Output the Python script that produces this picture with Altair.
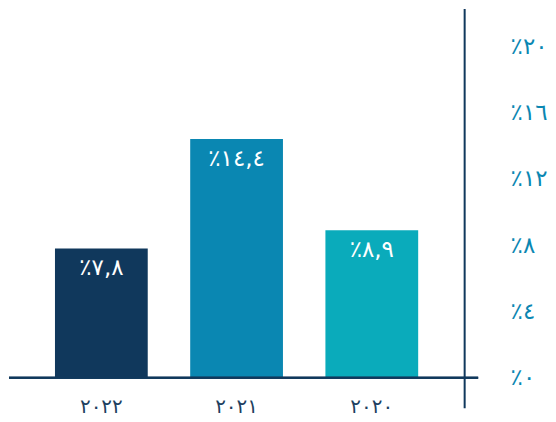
import altair as alt
import pandas as pd

years = ["٢٠٢٢", "٢٠٢١", "٢٠٢٠"]
values = [7.8, 14.4, 8.9]
labels = ["٪٧,٨", "٪١٤,٤", "٪٨,٩"]
colors = ["#10385c", "#0a87b2", "#0aabbb"]
ytick_values = [0, 4, 8, 12, 16, 20]
ytick_labels = ["٪٠", "٪٤", "٪٨", "٪١٢", "٪١٦", "٪٢٠"]

df = pd.DataFrame({"year": years, "value": values, "label": labels, "color": colors})

W, H = 456, 400
label_expr = "{" + ",".join(f"'{v}':'{l}'" for v, l in zip(ytick_values, ytick_labels)) + "}[datum.value]"

x_enc = alt.X("year:N", sort=years, title=None,
              scale=alt.Scale(paddingInner=0.314, paddingOuter=0.34),
              axis=alt.Axis(domain=False, ticks=False, labelAngle=0, labelFontSize=20,
                            labelColor="#1e3f5f", labelFont="DejaVu Sans",
                            labelBaseline="middle", labelPadding=-1))
y_scale = alt.Scale(domain=[-1.81, 22.29], nice=False, zero=False)
y_enc = alt.Y("value:Q", title=None, scale=y_scale,
              axis=alt.Axis(orient="right", grid=False, ticks=False, tickSize=0,
                            domain=True, domainColor="#10385c", domainWidth=2,
                            values=ytick_values, labelExpr=label_expr,
                            labelAlign="left", labelPadding=46, labelFontSize=23,
                            labelColor="#0a87b2", labelFont="DejaVu Sans",
                            labelBaseline="middle"))

bars = alt.Chart(df).mark_bar().encode(
    x=x_enc,
    y=y_enc,
    y2=alt.datum(0),
    color=alt.Color("color:N", scale=None),
)

text = alt.Chart(df).mark_text(color="white", fontSize=23, font="DejaVu Sans",
                               baseline="middle", dy=20).encode(
    x=alt.X("year:N", sort=years),
    y=alt.Y("value:Q", scale=y_scale),
    text="label:N",
)

baseline = alt.Chart(df).mark_rule(color="#10385c", strokeWidth=2).encode(
    y=alt.datum(0),
    x=alt.value(0),
    x2=alt.value(W + 14),
)

chart = alt.layer(bars, text, baseline).properties(
    width=W, height=H, padding=0
).configure_view(stroke=None)

chart.save("out.html", embed_options={"renderer": "svg", "actions": False})
